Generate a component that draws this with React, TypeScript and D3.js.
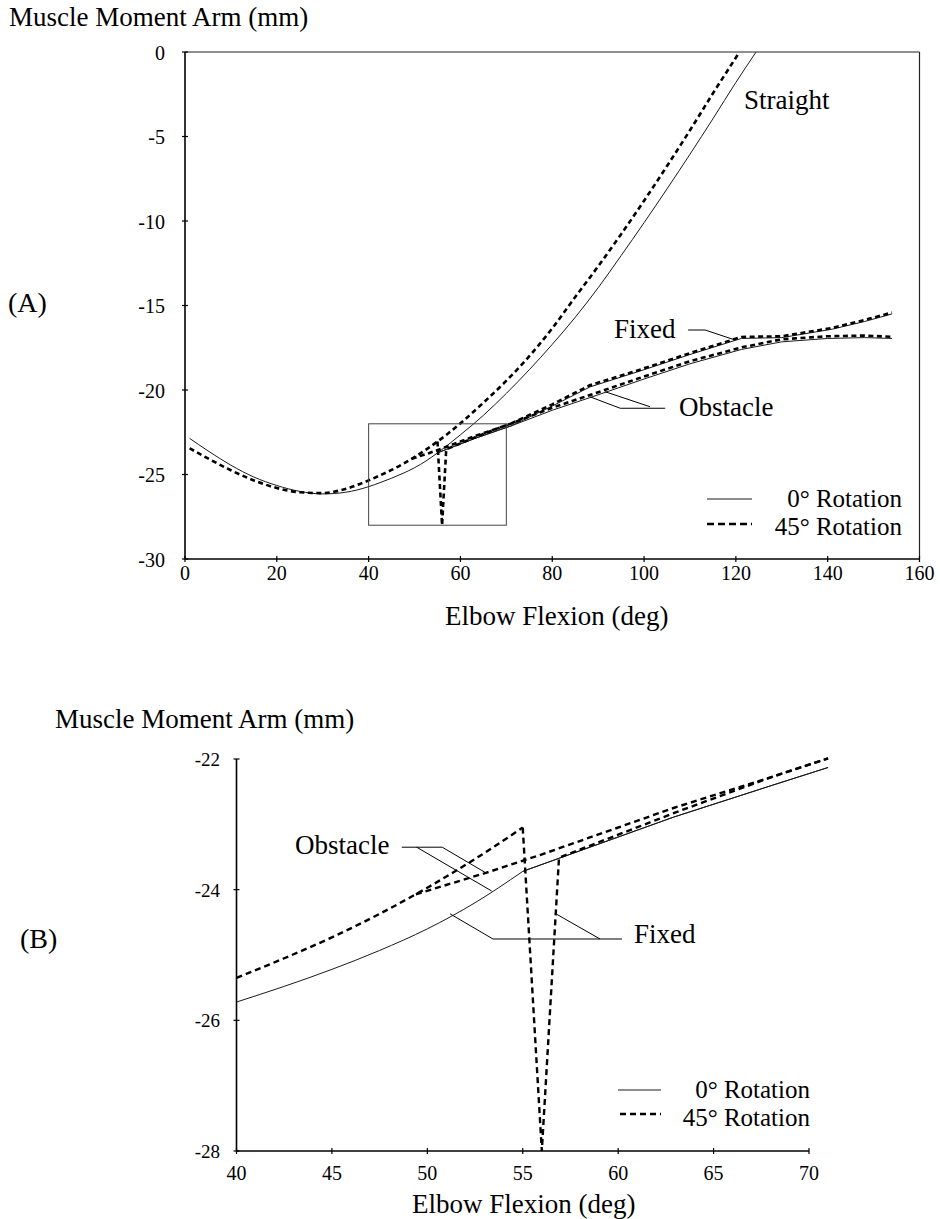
import React from 'react';
import * as d3 from 'd3';

type Pt = [number, number];

// axis ticks
const flexTicksA = [0, 20, 40, 60, 80, 100, 120, 140, 160];
const armTicksA = [0, -5, -10, -15, -20, -25, -30];
const flexTicksB = [40, 45, 50, 55, 60, 65, 70];
const armTicksB = [-22, -24, -26, -28];

// zoomed region shown in panel B (box in panel A)
const zoomFlex = [40, 70];
const zoomArm = [-22, -28];

// straight path, [flexion deg, moment arm mm]
const straight0: Pt[] = [
  [1, -22.86], [5, -23.6], [10, -24.45], [15, -25.15], [20, -25.65], [25, -26.0],
  [30, -26.15], [35, -26.05], [40, -25.72], [42.5, -25.48], [45, -25.22], [47.5, -24.93],
  [50, -24.6], [52.5, -24.2], [55, -23.72], [57.5, -23.2], [60, -22.65], [65, -21.5],
  [70, -20.2], [75, -18.8], [80, -17.3], [85, -15.7], [90, -13.95], [95, -12.05],
  [100, -10.1], [105, -8.1], [110, -6.05], [115, -3.95], [120, -1.8], [124.4, 0],
];
const straight45: Pt[] = [
  [1, -23.45], [5, -24.05], [10, -24.75], [15, -25.35], [20, -25.8], [25, -26.05],
  [30, -26.1], [35, -25.85], [40, -25.35], [42.5, -25.05], [45, -24.73], [47.5, -24.37],
  [50, -23.97], [52.5, -23.53], [55, -23.05], [57.5, -22.53], [60, -21.97], [65, -20.75],
  [70, -19.45], [75, -18.0], [80, -16.35], [85, -14.5], [90, -12.68], [95, -10.78],
  [100, -8.8], [105, -6.75], [110, -4.63], [115, -2.45], [120.8, 0],
];

// obstacle / fixed via point, from where they leave the straight path
const obstacle0: Pt[] = [
  [55, -23.72], [56.9, -23.52], [62.9, -22.89], [68.1, -22.4], [71, -22.13], [80, -21.2],
  [88.2, -20.45], [100, -19.35], [110, -18.45], [121.2, -17.6], [130, -17.15], [140, -16.95],
  [148, -16.9], [154, -16.95],
];
const obstacle45: Pt[] = [
  [49.4, -24.07], [53.1, -23.74], [55.9, -23.47], [62.9, -22.75], [68.1, -22.27], [71, -21.99],
  [80, -21.05], [88.2, -20.3], [100, -19.2], [110, -18.3], [121.2, -17.48], [130, -17.0],
  [140, -16.82], [148, -16.78], [154, -16.85],
];
const fixed0: Pt[] = [
  [55, -23.72], [56.9, -23.52], [62.9, -22.89], [68.1, -22.4], [71, -22.13], [80, -20.95],
  [88.2, -19.82], [100, -18.8], [110, -17.9], [121.2, -16.95], [130, -16.9], [141, -16.4],
  [148, -15.95], [154, -15.5],
];
const fixed45: Pt[] = [
  [55, -23.05], [56, -28], [56.9, -23.51], [62.9, -22.83], [68.1, -22.27], [71, -21.99],
  [80, -20.85], [88.2, -19.72], [100, -18.72], [110, -17.82], [121.2, -16.86], [130, -16.82],
  [141, -16.33], [148, -15.86], [154, -15.42],
];

// label leader lines, in data units
const fixedLeaderA: Pt[][] = [[[109.6, -16.45], [113.3, -16.45], [119.8, -17.04]]];
const obstacleLeaderA: Pt[][] = [
  [[104.6, -21.08], [94.8, -21.08], [88.2, -20.4]],
  [[101.3, -20.99], [91.5, -20.1]],
];
const obstacleLeaderB: Pt[][] = [
  [[48.66, -23.35], [50.78, -23.35], [53.11, -23.75]],
  [[49.44, -23.35], [53.37, -24.02]],
];
const fixedLeaderB: Pt[][] = [
  [[60.2, -24.755], [53.44, -24.755], [51.19, -24.37]],
  [[59.05, -24.755], [56.74, -24.37]],
];

const FONT = "'Liberation Serif', 'Times New Roman', serif";
const SOLID = { stroke: '#1a1a1a', strokeWidth: 1, fill: 'none' };
const DASH = { stroke: '#000', strokeWidth: 2.6, strokeDasharray: '5 3.5', fill: 'none' };
const DASH_B = { stroke: '#000', strokeWidth: 2.4, strokeDasharray: '6 4', fill: 'none' };

export default function App() {
  const xA = d3.scaleLinear().domain([0, 160]).range([185, 919.5]);
  const yA = d3.scaleLinear().domain([-30, 0]).range([559, 52]);
  const xB = d3.scaleLinear().domain([40, 70]).range([236.5, 809]);
  const yB = d3.scaleLinear().domain([-28, -22]).range([1151, 759]);

  const smoothA = d3.line<Pt>().x(d => xA(d[0])).y(d => yA(d[1])).curve(d3.curveMonotoneX);
  const linA = d3.line<Pt>().x(d => xA(d[0])).y(d => yA(d[1]));
  const smoothB = d3.line<Pt>().x(d => xB(d[0])).y(d => yB(d[1])).curve(d3.curveMonotoneX);
  const linB = d3.line<Pt>().x(d => xB(d[0])).y(d => yB(d[1]));

  // panel B: straight path only up to contact, tails only to the end of the zoomed run
  const preB = (s: Pt[]) => s.filter(d => d[0] >= 40 && d[0] <= 55);
  const tailB = (s: Pt[]) => s.filter(d => d[0] <= 71);

  const text = { fontFamily: FONT, fill: '#000' };

  return (
    <svg width={940} height={1219} style={{ position: 'absolute', left: 0, top: 0, background: '#fff' }}>
      <defs>
        <clipPath id="clipA">
          <rect x={xA(0)} y={yA(0)} width={xA(160) - xA(0)} height={yA(-30) - yA(0)} />
        </clipPath>
      </defs>

      {/* ---------- panel A ---------- */}
      <text x={9} y={26} fontSize={27} {...text}>Muscle Moment Arm (mm)</text>
      <text x={8} y={312} fontSize={28} {...text}>(A)</text>

      <g clipPath="url(#clipA)">
        <path d={smoothA(straight0) ?? ''} {...SOLID} />
        <path d={smoothA(straight45) ?? ''} {...DASH} />
        <path d={linA(obstacle0) ?? ''} {...SOLID} />
        <path d={linA(fixed0) ?? ''} {...SOLID} />
        <path d={linA(obstacle45) ?? ''} {...DASH} />
        <path d={linA(fixed45) ?? ''} {...DASH} />
      </g>

      <rect x={xA(zoomFlex[0])} y={yA(zoomArm[0])} width={xA(zoomFlex[1]) - xA(zoomFlex[0])}
        height={yA(zoomArm[1]) - yA(zoomArm[0])} fill="none" stroke="#444" strokeWidth={1} />

      {/* frame */}
      <line x1={xA(0)} x2={xA(160)} y1={yA(0)} y2={yA(0)} stroke="#222" strokeWidth={1.2} />
      <line x1={xA(160)} x2={xA(160)} y1={yA(0)} y2={yA(-30)} stroke="#222" strokeWidth={1.2} />
      <line x1={xA(0)} x2={xA(0)} y1={yA(0)} y2={yA(-30)} stroke="#000" strokeWidth={1.6} />
      <line x1={xA(0)} x2={xA(160)} y1={yA(-30)} y2={yA(-30)} stroke="#000" strokeWidth={1.6} />

      {armTicksA.map(v => (
        <g key={'ya' + v}>
          <line x1={xA(0) - 3} x2={xA(0) + 3} y1={yA(v)} y2={yA(v)} stroke="#000" strokeWidth={1.2} />
          <text x={165} y={yA(v) + 7.5} fontSize={20} textAnchor="end" {...text}>{v}</text>
        </g>
      ))}
      {flexTicksA.map(v => (
        <g key={'xa' + v}>
          <line x1={xA(v)} x2={xA(v)} y1={yA(-30) - 3} y2={yA(-30) + 3} stroke="#000" strokeWidth={1.2} />
          <text x={xA(v)} y={580} fontSize={20} textAnchor="middle" {...text}>{v}</text>
        </g>
      ))}
      <text x={445} y={625} fontSize={27} {...text}>Elbow Flexion (deg)</text>

      <text x={744} y={109} fontSize={27} {...text}>Straight</text>
      <text x={614} y={338} fontSize={27} {...text}>Fixed</text>
      <text x={679} y={416} fontSize={27} {...text}>Obstacle</text>
      {[...fixedLeaderA, ...obstacleLeaderA].map((l, i) => (
        <path key={'la' + i} d={linA(l) ?? ''} stroke="#000" strokeWidth={1} fill="none" />
      ))}

      <line x1={707} x2={752} y1={499} y2={499} {...SOLID} />
      <line x1={707} x2={752} y1={524} y2={524} stroke="#000" strokeWidth={2.6} strokeDasharray="7 4" />
      <text x={902} y={507} fontSize={25} textAnchor="end" {...text}>0° Rotation</text>
      <text x={902} y={535} fontSize={25} textAnchor="end" {...text}>45° Rotation</text>

      {/* ---------- panel B ---------- */}
      <text x={55} y={728} fontSize={27} {...text}>Muscle Moment Arm (mm)</text>
      <text x={20} y={948} fontSize={28} {...text}>(B)</text>

      <g>
        <path d={smoothB(preB(straight0)) ?? ''} {...SOLID} />
        <path d={linB(tailB(obstacle0)) ?? ''} {...SOLID} />
        <path d={linB(tailB(fixed0)) ?? ''} {...SOLID} />
        <path d={smoothB(preB(straight45)) ?? ''} {...DASH_B} />
        <path d={linB(tailB(obstacle45)) ?? ''} {...DASH_B} />
        <path d={linB(tailB(fixed45)) ?? ''} {...DASH_B} />
      </g>

      <line x1={xB(40)} x2={xB(40)} y1={yB(-22)} y2={yB(-28)} stroke="#000" strokeWidth={1.6} />
      <line x1={xB(40)} x2={xB(70)} y1={yB(-28)} y2={yB(-28)} stroke="#000" strokeWidth={1.6} />
      {armTicksB.map(v => (
        <g key={'yb' + v}>
          <line x1={xB(40) - 3} x2={xB(40) + 3} y1={yB(v)} y2={yB(v)} stroke="#000" strokeWidth={1.2} />
          <text x={220} y={yB(v) + 7} fontSize={19} textAnchor="end" {...text}>{v}</text>
        </g>
      ))}
      {flexTicksB.map(v => (
        <g key={'xb' + v}>
          <line x1={xB(v)} x2={xB(v)} y1={yB(-28) - 3} y2={yB(-28) + 3} stroke="#000" strokeWidth={1.2} />
          <text x={xB(v)} y={1180} fontSize={20} textAnchor="middle" {...text}>{v}</text>
        </g>
      ))}
      <text x={412} y={1213} fontSize={27} {...text}>Elbow Flexion (deg)</text>

      <text x={295} y={854} fontSize={27} {...text}>Obstacle</text>
      <text x={634} y={943} fontSize={27} {...text}>Fixed</text>
      {[...obstacleLeaderB, ...fixedLeaderB].map((l, i) => (
        <path key={'lb' + i} d={linB(l) ?? ''} stroke="#000" strokeWidth={1} fill="none" />
      ))}

      <line x1={618} x2={661} y1={1090} y2={1090} {...SOLID} />
      <line x1={620} x2={661} y1={1114} y2={1114} {...DASH_B} />
      <text x={810} y={1098} fontSize={25} textAnchor="end" {...text}>0° Rotation</text>
      <text x={810} y={1126} fontSize={25} textAnchor="end" {...text}>45° Rotation</text>
    </svg>
  );
}
